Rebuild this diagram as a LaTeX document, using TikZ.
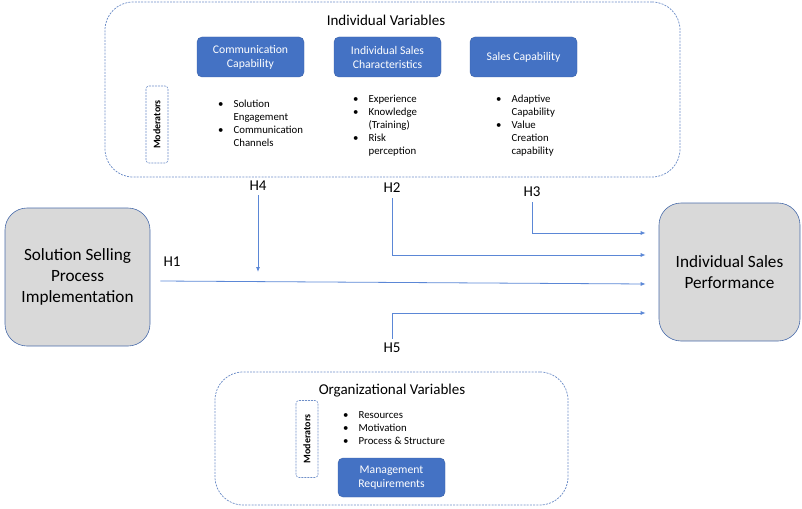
\documentclass[tikz,border=0pt]{standalone}
\usepackage{fontspec}
\setmainfont{Carlito}
\usetikzlibrary{positioning,arrows.meta}

\definecolor{boxblue}{HTML}{4472C4}
\definecolor{lineblue}{HTML}{5B87D6}
\definecolor{dashblue}{HTML}{6F8FC8}
\definecolor{greyfill}{HTML}{D9D9D9}

\tikzset{
  varbox/.style={draw=dashblue,dash pattern=on 2pt off 1.2pt,line width=0.75pt,rounded corners=28pt},
  bluebox/.style={fill=boxblue,draw=boxblue!85!black,line width=0.4pt,rounded corners=5pt,text=white,
    minimum width=107pt,minimum height=40pt,align=center,font=\fontsize{11.7}{14}\selectfont},
  modbox/.style={draw=dashblue,dash pattern=on 2pt off 1pt,line width=0.6pt,rounded corners=3pt,rotate=90,
    minimum width=77pt,minimum height=22pt,font=\fontsize{10}{11}\selectfont\bfseries},
  bigbox/.style={fill=greyfill,draw=lineblue!80!black,line width=0.6pt,rounded corners=22pt,align=center,
    font=\fontsize{17.2}{21}\selectfont},
  title/.style={font=\fontsize{15}{17}\selectfont},
  hyp/.style={font=\fontsize{15}{17}\selectfont,inner sep=1pt},
  items/.style={font=\fontsize{10.8}{13}\selectfont,align=left,anchor=north west,inner sep=0pt},
  link/.style={draw=lineblue,line width=0.8pt,-{Latex[length=5pt,width=4pt]}}
}
\newcommand{\itemlist}[1]{\begin{tabular}{@{}l@{\hspace{10pt}}l@{}}#1\end{tabular}}

\begin{document}
\begin{tikzpicture}[x=1pt,y=-1pt]
\useasboundingbox (0,0) rectangle (802,508);

% individual variables
\node[varbox,minimum width=575pt,minimum height=175pt] (indiv) at (392.5,89.5) {};
\node[title] (indivt) at (386,20) {Individual Variables};
\node[bluebox] (comm) at (250.5,57) {Communication\\Capability};
\node[bluebox] (isc) at (387.5,57) {Individual Sales\\Characteristics};
\node[bluebox] (scap) at (523.5,57) {Sales Capability};
\node[modbox] (mod1) at (157,124.5) {Moderators};
\node[items] (commi) at (218,98) {\itemlist{\textbullet & Solution\\ & Engagement\\ \textbullet & Communication\\ & Channels}};
\node[items] (isci) at (353,93) {\itemlist{\textbullet & Experience\\ \textbullet & Knowledge\\ & (Training)\\ \textbullet & Risk\\ & perception}};
\node[items] (scapi) at (496,93) {\itemlist{\textbullet & Adaptive\\ & Capability\\ \textbullet & Value\\ & Creation\\ & capability}};

% organizational variables
\node[varbox,minimum width=353pt,minimum height=133pt] (org) at (391.5,438.5) {};
\node[title] (orgt) at (392,391) {Organizational Variables};
\node[modbox] (mod2) at (307,439) {Moderators};
\node[items] (orgi) at (343,409) {\itemlist{\textbullet & Resources\\ \textbullet & Motivation\\ \textbullet & Process \& Structure}};
\node[bluebox,minimum height=39pt] (mgmt) at (391.5,477.5) {Management\\Requirements};

% main constructs
\node[bigbox,minimum width=145pt,minimum height=138pt] (ssp) at (77.5,277) {Solution Selling\\Process\\Implementation};
\node[bigbox,minimum width=141pt,minimum height=138pt] (isp) at (729.5,272) {Individual Sales\\Performance};

% hypotheses
\node[hyp] (h1) at (172,262) {H1};
\node[hyp] (h2) at (392,188) {H2};
\node[hyp] (h3) at (532,192) {H3};
\node[hyp] (h4) at (258,186) {H4};
\node[hyp] (h5) at (392,348) {H5};

\coordinate (in3) at ([xshift=-13pt,yshift=39pt]isp.west);
\coordinate (in2) at ([xshift=-13pt,yshift=17pt]isp.west);
\coordinate (in1) at ([xshift=-13pt,yshift=-12pt]isp.west);
\coordinate (in5) at ([xshift=-13pt,yshift=-41pt]isp.west);
\coordinate (h4e) at (258,272);

\draw[link] ([xshift=10pt,yshift=-4pt]ssp.east) -- (in1);
\draw[link,shorten <=4pt] (h2.south) |- (in2);
\draw[link,shorten <=4pt] (h3.south) |- (in3);
\draw[link,shorten <=3pt] (h5.north) |- (in5);
\draw[link,shorten <=3pt] (h4.south) -- (h4e);
\end{tikzpicture}
\end{document}
